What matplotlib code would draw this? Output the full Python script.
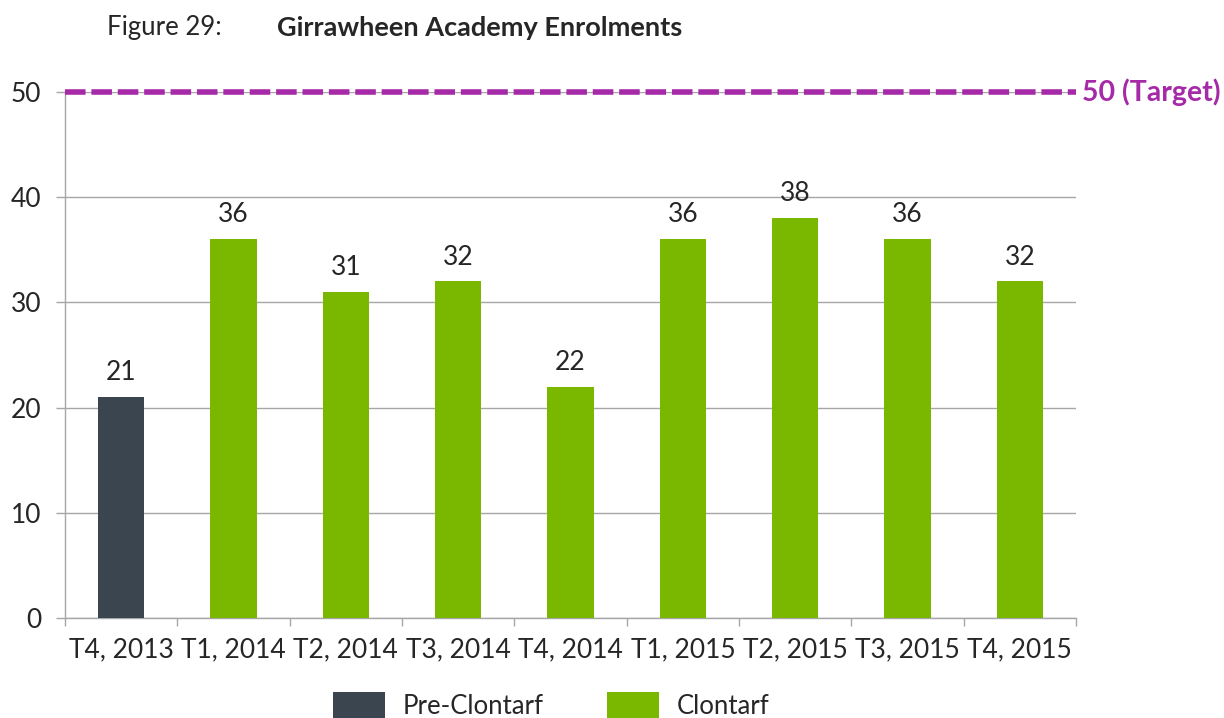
import matplotlib
matplotlib.use("Agg")
import matplotlib.pyplot as plt
from matplotlib.patches import Rectangle

categories = ["T4, 2013", "T1, 2014", "T2, 2014", "T3, 2014", "T4, 2014",
              "T1, 2015", "T2, 2015", "T3, 2015", "T4, 2015"]
values = [21, 36, 31, 32, 22, 36, 38, 36, 32]
groups = ["Pre-Clontarf"] + ["Clontarf"] * 8
target = 50
target_label = "50 (Target)"
yticks = [0, 10, 20, 30, 40, 50]
legend_labels = ["Pre-Clontarf", "Clontarf"]

colors = {"Pre-Clontarf": "#3A4550", "Clontarf": "#7AB800"}
purple = "#A62AA8"
text_col = "#262626"

plt.rcParams['font.family'] = ['Lato', 'DejaVu Sans']
FS = 19

fig = plt.figure(figsize=(12.24, 7.18), dpi=100)
ax = fig.add_axes([65/1224, 1-618/718, (1076-65)/1224, (618-92)/718])

x = list(range(len(categories)))
ax.bar(x, values, width=0.41, color=[colors[g] for g in groups], zorder=3)
for xi, v in zip(x, values):
    ax.text(xi, v + 1.6, str(v), ha='center', va='baseline', fontsize=FS, color=text_col)

ax.set_xlim(-0.5, len(categories) - 0.5)
ax.set_ylim(0, 50)
ax.set_yticks(yticks)
ax.set_yticklabels([str(t) for t in yticks], fontsize=FS, color=text_col)
ax.yaxis.grid(True, color="#A6A6A6", linewidth=1, zorder=0)
ax.tick_params(axis='y', length=6.5, width=1, color="#A6A6A6", pad=10.5)

ax.set_xticks(x)
ax.set_xticklabels(categories, fontsize=FS, color=text_col)
ax.tick_params(axis='x', length=0, pad=14)
ax.set_xticks([i + 0.5 for i in range(-1, len(categories))], minor=True)
ax.tick_params(axis='x', which='minor', length=6, color="#A6A6A6", width=1)

for s in ['top', 'right']:
    ax.spines[s].set_visible(False)
for s in ['left', 'bottom']:
    ax.spines[s].set_color("#A6A6A6")
    ax.spines[s].set_linewidth(1)

ax.axhline(target, color=purple, linewidth=4, linestyle=(0, (3.7, 1.05)), zorder=4, clip_on=False)
ax.text(1.006, target, target_label, transform=ax.get_yaxis_transform(), ha='left', va='center',
        fontsize=20.5, fontweight='bold', color=purple)

fig.text(107/1224, 1-28/718, "Figure 29:", fontsize=18.5, color=text_col, va='center', ha='left')
fig.text(277/1224, 1-28/718, "Girrawheen Academy Enrolments", fontsize=19.5, fontweight='bold',
         color=text_col, va='center', ha='left')

# legend
leg_items = [(333, legend_labels[0], colors["Pre-Clontarf"]), (607, legend_labels[1], colors["Clontarf"])]
for px, lab, col in leg_items:
    fig.patches.append(Rectangle((px/1224, 0), 52/1224, 26/718, transform=fig.transFigure,
                                 facecolor=col, edgecolor='none'))
    fig.text((px + 70)/1224, 1-707/718, lab, fontsize=18.5, color=text_col, va='center', ha='left')

fig.savefig("out.png", dpi=100)
